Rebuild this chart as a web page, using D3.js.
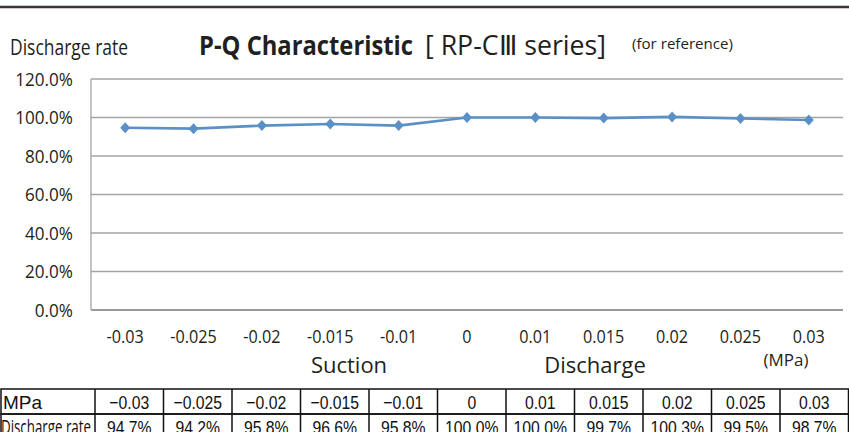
<!DOCTYPE html>
<html>
<head>
<meta charset="utf-8">
<script src="https://cdn.jsdelivr.net/npm/d3@7"></script>
<style>
  html, body { margin: 0; padding: 0; background: #fff; }
  svg { display: block; }
</style>
</head>
<body>
<svg id="chart" width="849" height="432"></svg>
<script>
// Pressure points (MPa) and measured discharge rate (%)
const pressureLabels = ["-0.03", "-0.025", "-0.02", "-0.015", "-0.01", "0", "0.01", "0.015", "0.02", "0.025", "0.03"];
const tableLabels = ["\u22120.03", "\u22120.025", "\u22120.02", "\u22120.015", "\u22120.01", "0", "0.01", "0.015", "0.02", "0.025", "0.03"];
const dischargeRate = [94.7, 94.2, 95.8, 96.6, 95.8, 100.0, 100.0, 99.7, 100.3, 99.5, 98.7];
const yTicks = [0, 20, 40, 60, 80, 100, 120];

const svg = d3.select("#chart");
const textColor = "#231f20";
const lineColor = "#5b90c6";
const axisFont = "'Open Sans', 'Noto Sans', sans-serif";
const tableFont = "'Liberation Sans', Arial, sans-serif";

// text squeezed horizontally to imitate a condensed face
function ctext(parent, px, py, str, o = {}) {
  const sx = o.sx ?? 0.86;
  return parent.append("text")
    .attr("transform", `translate(${px},${py}) scale(${sx},1)`)
    .attr("text-anchor", o.anchor || "start")
    .attr("font-family", o.family || axisFont)
    .attr("font-size", o.size || 16)
    .attr("font-weight", o.weight || "normal")
    .attr("fill", o.fill || textColor)
    .text(str);
}

// fitted text spanning a given width
function ftext(parent, px, py, w, str, o = {}) {
  return parent.append("text").attr("x", px).attr("y", py)
    .attr("font-family", o.family || axisFont)
    .attr("font-size", o.size || 16)
    .attr("font-weight", o.weight || "normal")
    .attr("fill", o.fill || textColor)
    .attr("textLength", w).attr("lengthAdjust", "spacingAndGlyphs")
    .text(str);
}

// top rule
svg.append("line").attr("x1", 0).attr("x2", 849).attr("y1", 7).attr("y2", 7)
  .attr("stroke", "#3a3536").attr("stroke-width", 2.5);

// header texts
ftext(svg, 10, 55, 118, "Discharge rate", { size: 21 });
ftext(svg, 199, 55, 214, "P-Q Characteristic", { size: 27, weight: "bold" });
ftext(svg, 425, 55, 181, "[ RP-C\u2162 series]", { size: 27 });
ftext(svg, 632, 49, 101, "(for reference)", { size: 15 });

// plot area
const plot = { left: 91, right: 843, top: 79, bottom: 310 };

const x = d3.scaleBand().domain(pressureLabels).range([plot.left, plot.right]);
const y = d3.scaleLinear().domain([0, 120]).range([plot.bottom, plot.top]);

// horizontal gridlines
svg.append("g").selectAll("line").data(yTicks).join("line")
  .attr("x1", plot.left).attr("x2", plot.right)
  .attr("y1", d => y(d)).attr("y2", d => y(d))
  .attr("stroke", d => d === 0 ? "#9a9a9a" : "#a4a4a4")
  .attr("stroke-width", d => d === 0 ? 2 : 1.3);

// left axis line
svg.append("line").attr("x1", plot.left).attr("x2", plot.left)
  .attr("y1", plot.top).attr("y2", plot.bottom)
  .attr("stroke", "#a4a4a4").attr("stroke-width", 1.3);

// y tick labels
const yg = svg.append("g");
yTicks.forEach(d => ctext(yg, 73, y(d) + 6.5, d3.format(".1f")(d) + "%", { anchor: "end", size: 18, sx: 0.95 }));

// x tick labels
const xg = svg.append("g");
pressureLabels.forEach(d => ctext(xg, x(d) + x.bandwidth() / 2, 343, d, { anchor: "middle", size: 18, sx: 0.9 }));

// side labels
ctext(svg, 349, 373, "Suction", { anchor: "middle", size: 22, sx: 1 });
ctext(svg, 595, 373, "Discharge", { anchor: "middle", size: 22, sx: 1 });
ctext(svg, 786, 366, "(MPa)", { anchor: "middle", size: 17, sx: 1 });

// series line
const pts = pressureLabels.map((p, i) => [x(p) + x.bandwidth() / 2, y(dischargeRate[i])]);
svg.append("path").attr("d", d3.line()(pts))
  .attr("fill", "none").attr("stroke", lineColor).attr("stroke-width", 2.6)
  .attr("stroke-linejoin", "round");

// diamond markers
const diamondPath = "M0,-5.5L5,0L0,5.5L-5,0Z";
svg.append("g").selectAll("path").data(pts).join("path")
  .attr("d", diamondPath).attr("transform", d => `translate(${d[0]},${d[1]})`)
  .attr("fill", lineColor);

// data table
const tbl = { top: 389, rowH: 25, firstW: 95, colW: 68.5 };
const colX = i => tbl.firstW + i * tbl.colW;
const tg = svg.append("g");
const rows = [
  { head: "MPa", vals: tableLabels },
  { head: "Discharge rate", vals: dischargeRate.map(v => d3.format(".1f")(v) + "%") }
];
rows.forEach((r, ri) => {
  const ry = tbl.top + ri * tbl.rowH;
  tg.append("rect").attr("x", 1).attr("y", ry).attr("width", 848).attr("height", tbl.rowH)
    .attr("fill", "none").attr("stroke", "#111").attr("stroke-width", 1.5);
  if (ri === 0) {
    tg.append("text").attr("x", 3).attr("y", ry + 20).attr("font-family", tableFont)
      .attr("font-size", 19).attr("fill", "#111").text(r.head);
  } else {
    ftext(tg, 1, ry + 20, 90, r.head, { size: 20, fill: "#111" });
  }
  r.vals.forEach((v, i) => {
    ctext(tg, colX(i) + tbl.colW / 2, ry + 20, v,
      { anchor: "middle", family: tableFont, size: 19, sx: 0.83, fill: "#111" });
  });
});
d3.range(12).forEach(i => {
  tg.append("line").attr("x1", colX(i)).attr("x2", colX(i))
    .attr("y1", tbl.top).attr("y2", tbl.top + 2 * tbl.rowH)
    .attr("stroke", "#111").attr("stroke-width", 1.5);
});
</script>
</body>
</html>
